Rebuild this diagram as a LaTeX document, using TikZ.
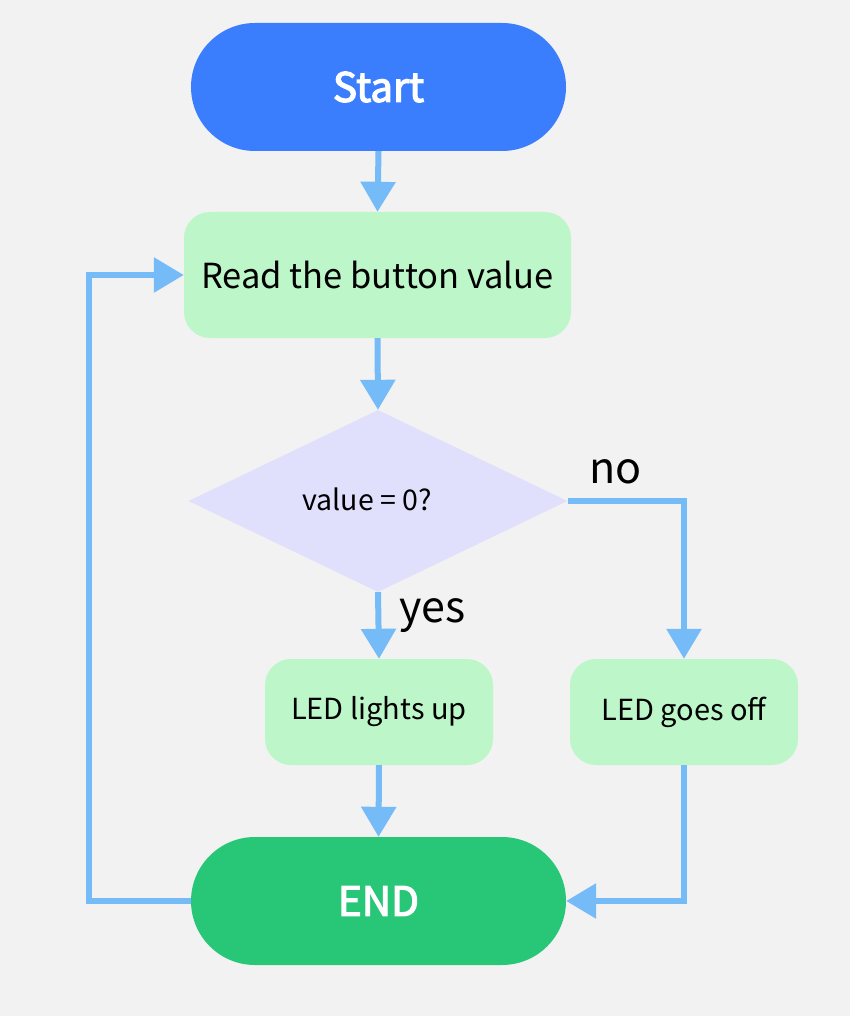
\documentclass[tikz,border=0pt]{standalone}
\usepackage{fontspec}
\setmainfont{Noto Sans CJK SC}
\newfontfamily\termfont[UprightFeatures={FakeBold=3}]{Noto Sans CJK SC}
\usetikzlibrary{arrows.meta,shapes.geometric}
\definecolor{bg}{HTML}{F2F2F2}
\definecolor{startc}{HTML}{3A7DFD}
\definecolor{endc}{HTML}{27C777}
\definecolor{procc}{HTML}{BDF7C9}
\definecolor{decc}{HTML}{E0E0FC}
\definecolor{arr}{HTML}{75BBF8}
\tikzset{
  terminal/.style={rounded corners=64pt, minimum width=375pt, minimum height=128pt, text=white, font=\termfont\fontsize{40.5}{48}\selectfont, inner sep=0pt},
  proc/.style={fill=procc, rounded corners=26pt, inner sep=0pt, text=black},
  decision/.style={diamond, fill=decc, minimum width=379pt, minimum height=182pt, aspect=2.08, inner sep=0pt},
  flow/.style={draw=arr, line width=6pt, -{Triangle[length=30pt,width=34pt]}},
  lbl/.style={font=\fontsize{43}{50}\selectfont, inner sep=0pt},
}
\begin{document}
\begin{tikzpicture}[x=1pt,y=-1pt]
\fill[bg] (0,0) rectangle (850,1016);
\useasboundingbox (0,0) rectangle (850,1016);
\node[terminal, fill=startc] (start) at (378.5,87) {Start};
\node[proc, minimum width=387pt, minimum height=126pt, font=\fontsize{34.5}{40}\selectfont] (read) at (377.5,275) {Read the button value};
\node[decision] (dec) at (378,501) {};
\node[font=\fontsize{28.5}{34}\selectfont] at (367,499) {value = 0?};
\node[proc, minimum width=228pt, minimum height=106pt, font=\fontsize{29}{34}\selectfont] (on) at (379,712) {LED lights up};
\node[proc, minimum width=228pt, minimum height=106pt, font=\fontsize{29}{34}\selectfont] (off) at (684,712) {LED goes off};
\node[terminal, fill=endc] (end) at (378.5,901) {END};
\draw[flow] (start.south) -- (read.north);
\draw[flow] (read.south) -- (dec.north);
\draw[flow] (dec.south) -- (on.north);
\draw[flow] (dec.east) -| (off.north);
\draw[flow] (on.south) -- (end.north);
\draw[flow] (off.south) |- (end.east);
\draw[flow] (end.west) -- (89,901) |- (read.west);
\node[lbl, anchor=west] at (589,472) {no};
\node[lbl, anchor=west] at (399,616) {yes};
\end{tikzpicture}
\end{document}
